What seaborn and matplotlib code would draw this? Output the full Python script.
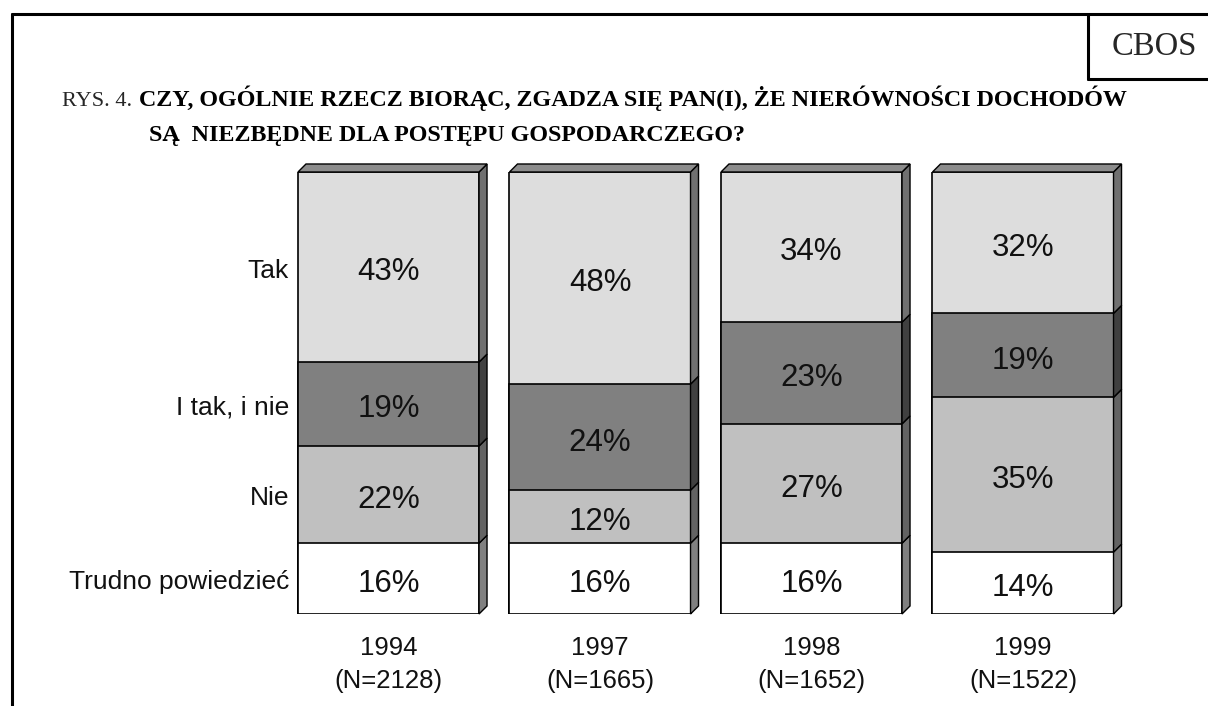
import numpy as np
import pandas as pd
import matplotlib
matplotlib.use("Agg")
import matplotlib.pyplot as plt
from matplotlib.patches import Polygon
from matplotlib.lines import Line2D
import seaborn as sns

# --- data ---
years = ["1994", "1997", "1998", "1999"]
n_sizes = [2128, 1665, 1652, 1522]
answers = ["Tak", "I tak, i nie", "Nie", "Trudno powiedzieć"]
tak = [43, 48, 34, 32]
tak_nie = [19, 24, 23, 19]
nie = [22, 12, 27, 35]
trudno = [16, 16, 16, 14]

front = {"Tak": "#dddddd", "I tak, i nie": "#808080", "Nie": "#c0c0c0", "Trudno powiedzieć": "#ffffff"}
side = {"Tak": "#707070", "I tak, i nie": "#404040", "Nie": "#636363", "Trudno powiedzieć": "#808080"}
top_face = "#8c8c8c"

sns.set_theme(style="white")
plt.rcParams["font.family"] = ["Liberation Sans", "DejaVu Sans"]

W, H = 1208, 706
fig = plt.figure(figsize=(W / 100, H / 100), dpi=100)
ax = fig.add_axes([282.75 / W, 92 / H, 846 / W, 442 / H])

df = pd.DataFrame({"Tak": tak, "I tak, i nie": tak_nie, "Nie": nie, "Trudno powiedzieć": trudno})
df["label"] = [f"{y}\n(N={n})" for y, n in zip(years, n_sizes)]
stack = ["Trudno powiedzieć", "Nie", "I tak, i nie", "Tak"]  # bottom -> top
cum = df[stack].cumsum(axis=1)
bottoms = cum - df[stack]

bar_w = 0.856
# draw tallest cumulative first, then overlay the lower ones
for ans in reversed(stack):
    sns.barplot(x=df["label"], y=cum[ans], color=front[ans], saturation=1, width=bar_w,
                edgecolor="black", linewidth=1.2, errorbar=None, ax=ax)

ax.set_xlim(-0.5, 3.5)
ax.set_ylim(0, 100)

# fake 3D depth (8 px to the right and up)
dx = 8 / 211.5
dy = 8 / 4.42
for i in range(len(years)):
    xl, xr = i - bar_w / 2, i + bar_w / 2
    for ans in stack:
        y0 = bottoms.loc[i, ans]
        y1 = cum.loc[i, ans]
        ax.add_patch(Polygon([(xr, y0), (xr + dx, y0 + dy), (xr + dx, y1 + dy), (xr, y1)],
                             closed=True, facecolor=side[ans], edgecolor="black", linewidth=1.0,
                             clip_on=False))
        ax.text(i, (y0 + y1) / 2 - 1.2, f"{df.loc[i, ans]}%", ha="center", va="center",
                fontsize=22.5, color="#111111")
    ytop = cum.loc[i, stack[-1]]
    ax.add_patch(Polygon([(xl, ytop), (xl + dx, ytop + dy), (xr + dx, ytop + dy), (xr, ytop)],
                         closed=True, facecolor=top_face, edgecolor="black", linewidth=1.0,
                         clip_on=False))

# answer names on the left, next to the first bar
for ans in stack:
    ymid = (bottoms.loc[0, ans] + cum.loc[0, ans]) / 2
    ax.text(-0.47, ymid - 0.8, ans, ha="right", va="center", fontsize=19, color="#111111")

ax.set_xlabel("")
ax.set_ylabel("")
ax.set_yticks([])
ax.tick_params(axis="x", length=0, pad=16, labelsize=18.5, labelcolor="#111111")
for lab in ax.get_xticklabels():
    lab.set_linespacing(1.45)
sns.despine(ax=ax, left=True, bottom=True)

# title and CBOS box
def px(x, y):
    return x / W, 1 - y / H

serif = ["Liberation Serif", "DejaVu Serif"]
fig.text(*px(62, 106), "RYS. 4.", family=serif, fontsize=16, va="baseline", ha="left")
fig.text(*px(139, 106), "CZY, OGÓLNIE RZECZ BIORĄC, ZGADZA SIĘ PAN(I), ŻE NIERÓWNOŚCI DOCHODÓW",
         family=serif, fontsize=17.3, fontweight="bold", va="baseline", ha="left", color="black")
fig.text(*px(149, 141), "SĄ  NIEZBĘDNE DLA POSTĘPU GOSPODARCZEGO?",
         family=serif, fontsize=17.3, fontweight="bold", va="baseline", ha="left", color="black")
fig.text(*px(1112, 55), "CBOS", family=serif, fontsize=23.5, va="baseline", ha="left")

lw = 2.2
for xs, ys in [((12, W), (14, 14)), ((12, 12), (14, H)), ((1088, 1088), (14, 79)), ((1088, W), (79, 79))]:
    fig.add_artist(Line2D([x / W for x in xs], [1 - y / H for y in ys], color="black",
                          linewidth=lw, transform=fig.transFigure))

fig.savefig("out.png", dpi=100)
